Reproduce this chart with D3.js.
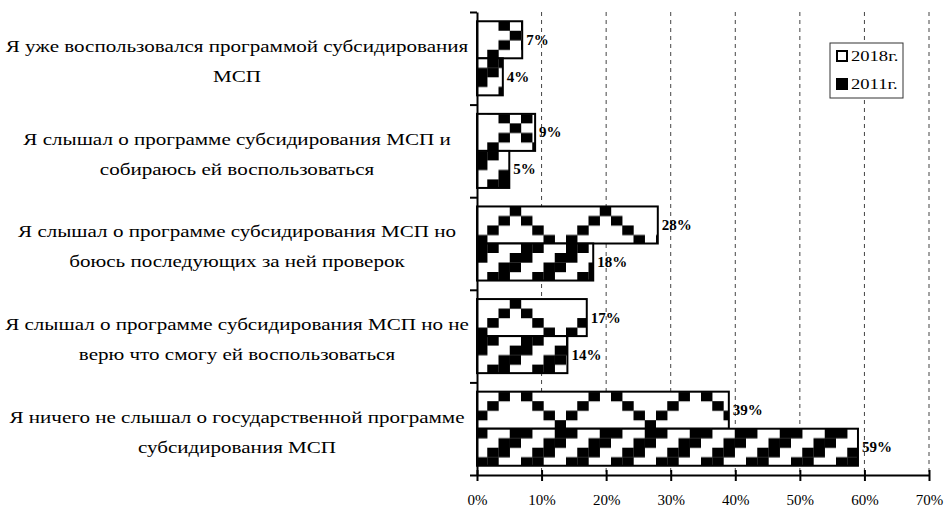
<!DOCTYPE html>
<html>
<head>
<meta charset="utf-8">
<script src="https://cdn.jsdelivr.net/npm/d3@7"></script>
<style>
  body { margin: 0; background: #fff; }
  svg { display: block; }
</style>
</head>
<body>
<div id="chart"></div>
<script>
// ── Data ───────────────────────────────────────────────────────────────
const categoryLines = [
    ["Я уже воспользовался программой субсидирования", "МСП"],
    ["Я слышал о программе субсидирования МСП и", "собираюсь ей воспользоваться"],
    ["Я слышал о программе субсидирования МСП но", "боюсь последующих за ней проверок"],
    ["Я слышал о программе субсидирования МСП но не", "верю что смогу ей воспользоваться"],
    ["Я ничего не слышал о государственной программе", "субсидирования МСП"]
];
const seriesNames = ["2018г.", "2011г."];
const values2018 = [7, 9, 28, 17, 39];
const values2011 = [4, 5, 18, 14, 59];
const xTickValues = [0, 10, 20, 30, 40, 50, 60, 70];

// ── Pattern styles (Excel-like fills) ─────────────────────────────────
const CELL_W = 11.25, CELL_H = 9.5;
// outlined diamond, 8 x 8 cells: black columns per row
const DIAMOND_ROWS = [[3], [2, 4], [1, 5], [0, 6], [7], [0, 6], [1, 5], [2, 4]];
// wide upward diagonal, 4 x 4 cells
const DIAGONAL_ROWS = [[3, 0], [2, 3], [1, 2], [0, 1]];
// which pattern row sits at the top of each bar
const PHASE_2018 = [7, 7, 0, 0, 1];
const PHASE_2011 = [2, 3, 3, 3, 0];

// the source picture is stretched sideways, so is its text
const TEXT_SX = 1.24;

const W = 946, H = 507;
const svg = d3.select("#chart").append("svg")
    .attr("width", W).attr("height", H)
    .style("font-family", "'Liberation Serif', 'Times New Roman', serif");

const defs = svg.append("defs");

// ── Scales ─────────────────────────────────────────────────────────────
const x = d3.scaleLinear().domain([0, 70]).range([477, 929]);
const y = d3.scaleBand()
    .domain(d3.range(categoryLines.length))
    .range([12, 475])
    .paddingInner(0.2)
    .paddingOuter(0.1);
const yInner = d3.scaleBand()
    .domain([0, 1])
    .range([0, y.bandwidth()]);
const yEdges = d3.scaleLinear().domain([0, categoryLines.length]).range([12, 475]);

// ── Grid ───────────────────────────────────────────────────────────────
svg.append("g")
    .selectAll("line")
    .data(xTickValues.slice(1))
    .join("line")
    .attr("x1", d => x(d)).attr("x2", d => x(d))
    .attr("y1", 12).attr("y2", 475)
    .attr("stroke", "#444")
    .attr("stroke-width", 1)
    .attr("stroke-dasharray", "4,4");

// ── Patterns ───────────────────────────────────────────────────────────
function makePattern(id, rows, nCols, top, phase) {
    const p = defs.append("pattern")
        .attr("id", id)
        .attr("patternUnits", "userSpaceOnUse")
        .attr("x", x(0) - 1)
        .attr("y", top - phase * CELL_H)
        .attr("width", nCols * CELL_W)
        .attr("height", rows.length * CELL_H);
    p.append("rect")
        .attr("width", nCols * CELL_W).attr("height", rows.length * CELL_H)
        .attr("fill", "#fff");
    rows.forEach((cols, r) => {
        cols.forEach(c => {
            p.append("rect")
                .attr("x", c * CELL_W).attr("y", r * CELL_H)
                .attr("width", CELL_W + 0.2).attr("height", CELL_H + 0.2)
                .attr("fill", "#000");
        });
    });
}

const bars = [];
categoryLines.forEach((_, i) => {
    bars.push({ cat: i, s: 0, value: values2018[i] });
    bars.push({ cat: i, s: 1, value: values2011[i] });
});

bars.forEach(d => {
    const top = y(d.cat) + yInner(d.s);
    if (d.s === 0) makePattern(`p0-${d.cat}`, DIAMOND_ROWS, 8, top, PHASE_2018[d.cat]);
    else makePattern(`p1-${d.cat}`, DIAGONAL_ROWS, 4, top, PHASE_2011[d.cat]);
});

// ── Bars ───────────────────────────────────────────────────────────────
svg.append("g")
    .selectAll("rect")
    .data(bars)
    .join("rect")
    .attr("x", x(0))
    .attr("y", d => y(d.cat) + yInner(d.s))
    .attr("width", d => x(d.value) - x(0))
    .attr("height", yInner.bandwidth())
    .attr("fill", d => `url(#p${d.s}-${d.cat})`)
    .attr("stroke", "#000")
    .attr("stroke-width", 2);

// value labels
svg.append("g")
    .selectAll("text")
    .data(bars)
    .join("text")
    .attr("x", d => x(d.value) + 4)
    .attr("y", d => y(d.cat) + yInner(d.s) + yInner.bandwidth() / 2 + 5)
    .style("font-size", "15px")
    .style("font-weight", "bold")
    .text(d => d.value + "%");

// ── Axes ───────────────────────────────────────────────────────────────
const xAxisG = svg.append("g")
    .attr("transform", "translate(0,475)")
    .call(d3.axisBottom(x).tickValues(xTickValues).tickFormat(d => d + "%")
        .tickSizeInner(6).tickSizeOuter(0).tickPadding(13));
xAxisG.select(".domain").attr("stroke", "#000").attr("stroke-width", 2);
xAxisG.selectAll(".tick line").attr("y1", -5).attr("stroke-width", 2);
xAxisG.selectAll(".tick text")
    .style("font-size", "15px")
    .style("font-family", "'Liberation Serif', serif")
    .attr("fill", "#000");

const yAxisG = svg.append("g")
    .attr("transform", `translate(${x(0)},0)`)
    .call(d3.axisLeft(yEdges).ticks(categoryLines.length).tickFormat("")
        .tickSizeInner(7).tickSizeOuter(0));
yAxisG.select(".domain").attr("stroke", "#000").attr("stroke-width", 2);
yAxisG.selectAll(".tick line").attr("stroke-width", 2);

// category labels
const catG = svg.append("g");
categoryLines.forEach((lines, i) => {
    const cy = y(i) + y.bandwidth() / 2;
    const t = catG.append("text")
        .attr("text-anchor", "middle")
        .attr("transform", `translate(237,0) scale(${TEXT_SX},1)`)
        .style("font-size", "17px")
        .attr("fill", "#000");
    lines.forEach((ln, k) => {
        t.append("tspan")
            .attr("x", 0)
            .attr("y", cy - 6 + k * 30)
            .text(ln);
    });
});

// ── Legend ─────────────────────────────────────────────────────────────
const legend = svg.append("g").attr("transform", "translate(830,43)");
legend.append("rect")
    .attr("width", 73).attr("height", 55)
    .attr("fill", "#fff")
    .attr("stroke", "#333").attr("stroke-width", 1);
seriesNames.forEach((name, i) => {
    const row = legend.append("g").attr("transform", `translate(6, ${7 + i * 28})`);
    row.append("rect")
        .attr("x", 1).attr("y", 1)
        .attr("width", 10).attr("height", 10)
        .attr("fill", i === 0 ? "#fff" : "#000")
        .attr("stroke", "#000").attr("stroke-width", 2);
    row.append("text")
        .attr("transform", `translate(15,11) scale(${TEXT_SX},1)`)
        .style("font-size", "15px")
        .text(name);
});
</script>
</body>
</html>
